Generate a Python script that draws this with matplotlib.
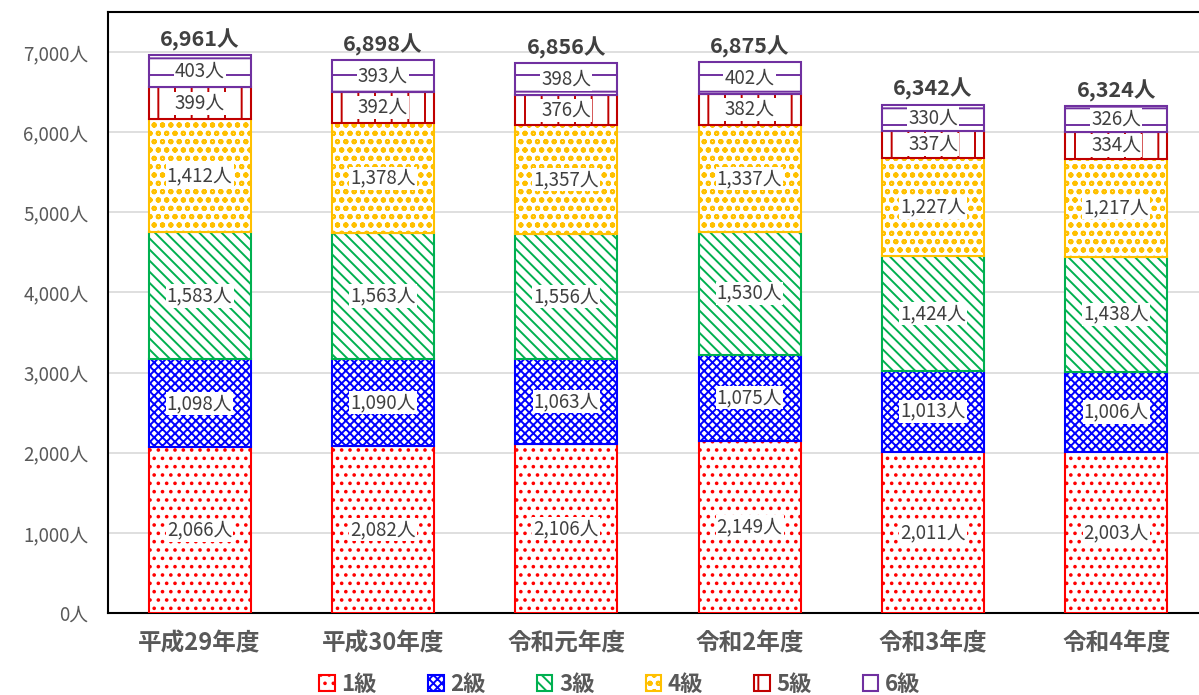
import matplotlib
matplotlib.use("Agg")
import matplotlib.pyplot as plt
from matplotlib.patches import Patch
from matplotlib.ticker import FuncFormatter

plt.rcParams["font.family"] = ["Noto Sans CJK JP", "DejaVu Sans"]
plt.rcParams["hatch.linewidth"] = 1.4

years = ["平成29年度", "平成30年度", "令和元年度", "令和2年度", "令和3年度", "令和4年度"]
grades = ["1級", "2級", "3級", "4級", "5級", "6級"]

grade1 = [2066, 2082, 2106, 2149, 2011, 2003]
grade2 = [1098, 1090, 1063, 1075, 1013, 1006]
grade3 = [1583, 1563, 1556, 1530, 1424, 1438]
grade4 = [1412, 1378, 1357, 1337, 1227, 1217]
grade5 = [399, 392, 376, 382, 337, 334]
grade6 = [403, 393, 398, 402, 330, 326]
totals = [6961, 6898, 6856, 6875, 6342, 6324]

series = [grade1, grade2, grade3, grade4, grade5, grade6]
colors = ["#FF0000", "#0000FF", "#00B050", "#FFC000", "#C00000", "#7030A0"]
hatches = ["..", "xxxx", "\\\\\\", "oo", "|", "-"]

TEXT = "#404040"

fig = plt.figure(figsize=(11.99, 6.95), dpi=100)
ax = fig.add_axes([0.090, 0.118, 0.9175, 0.865])

x = list(range(len(years)))
bottom = [0] * len(years)
for vals, col, hat in zip(series, colors, hatches):
    ax.bar(x, vals, width=0.556, bottom=bottom, facecolor="white",
           edgecolor=col, hatch=hat, linewidth=1.5, zorder=3)
    for i, v in enumerate(vals):
        ax.text(i, bottom[i] + v / 2, f"{v:,}人", ha="center", va="center",
                fontsize=13.5, color=TEXT, zorder=5,
                bbox=dict(facecolor="white", edgecolor="none", pad=0.8))
    bottom = [b + v for b, v in zip(bottom, vals)]

for i, t in enumerate(totals):
    ax.annotate(f"{t:,}人", (i, t), xytext=(0, 3), textcoords="offset points",
                ha="center", va="bottom", fontsize=15.5, fontweight="bold",
                color=TEXT)

ax.set_xlim(-0.5, 5.5)
ax.set_ylim(0, 7500)
ax.set_yticks(range(0, 7001, 1000))
ax.yaxis.set_major_formatter(FuncFormatter(lambda v, p: f"{int(v):,}人"))
ax.set_xticks(x)
ax.set_xticklabels(years, fontsize=17, fontweight="bold", color="#595959")
ax.tick_params(axis="y", length=0, pad=14, labelsize=13.5, labelcolor="#595959")
ax.tick_params(axis="x", length=0, pad=13)
ax.grid(axis="y", color="#D9D9D9", linewidth=1.2, zorder=0)
ax.set_axisbelow(True)
for side in ["left", "bottom", "top"]:
    ax.spines[side].set_color("black")
    ax.spines[side].set_linewidth(1.5)
ax.spines["right"].set_visible(False)

handles = [Patch(facecolor="white", edgecolor=c, hatch=h, linewidth=1.5)
           for c, h in zip(colors, hatches)]
leg = fig.legend(handles, grades, loc="lower center", ncol=6,
                 bbox_to_anchor=(0.517, -0.03), frameon=False,
                 handlelength=0.7, handleheight=0.7, handletextpad=0.3,
                 columnspacing=2.3,
                 prop={"size": 16, "weight": "bold"})
for t in leg.get_texts():
    t.set_color("#595959")

fig.savefig("out.png", dpi=100)
